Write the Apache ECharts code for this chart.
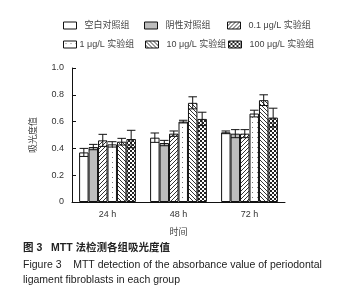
<!DOCTYPE html>
<html>
<head>
<meta charset="utf-8">
<script src="https://cdn.jsdelivr.net/npm/echarts@6/dist/echarts.min.js"></script>
<style>
  html, body { margin: 0; padding: 0; background: #fff; }
  #chart { width: 360px; height: 300px; }
</style>
</head>
<body>
<div id="chart"></div>
<script>
// data
const times = ['24 h', '48 h', '72 h'];
const groups = ['空白对照组', '阴性对照组', '0.1 μg/L 实验组', '1 μg/L 实验组', '10 μg/L 实验组', '100 μg/L 实验组'];
const blankVals = [0.37, 0.48, 0.52];
const negVals = [0.41, 0.44, 0.51];
const d01Vals = [0.46, 0.51, 0.51];
const d1Vals = [0.43, 0.60, 0.66];
const d10Vals = [0.45, 0.74, 0.76];
const d100Vals = [0.47, 0.62, 0.63];
const blankErr = [0.03, 0.035, 0.01];
const negErr = [0.02, 0.02, 0.03];
const d01Err = [0.045, 0.02, 0.03];
const d1Err = [0.02, 0.01, 0.025];
const d10Err = [0.025, 0.045, 0.04];
const d100Err = [0.065, 0.05, 0.07];

const values = [blankVals, negVals, d01Vals, d1Vals, d10Vals, d100Vals];
const errors = [blankErr, negErr, d01Err, d1Err, d10Err, d100Err];

const FONT = '"Liberation Sans", "Noto Sans CJK SC", sans-serif';

// pattern fills
function makePattern(size, draw) {
  const c = document.createElement('canvas');
  c.width = size; c.height = size;
  const ctx = c.getContext('2d');
  ctx.fillStyle = '#fff';
  ctx.fillRect(0, 0, size, size);
  draw(ctx);
  return { image: c, repeat: 'repeat' };
}
const slashPat = makePattern(4, ctx => {
  ctx.fillStyle = '#333';
  for (let i = 0; i < 4; i++) ctx.fillRect(3 - i, i, 1, 1);
});
const backPat = makePattern(4, ctx => {
  ctx.fillStyle = '#333';
  for (let i = 0; i < 4; i++) ctx.fillRect(i, i, 1, 1);
});
const dotPat = makePattern(5, ctx => {
  ctx.fillStyle = '#777';
  ctx.fillRect(2, 2, 1, 1);
});
const checkPat = makePattern(4, ctx => {
  ctx.fillStyle = '#222';
  ctx.fillRect(0, 0, 2, 2);
  ctx.fillRect(2, 2, 2, 2);
});
const fills = ['#ffffff', '#bdbdbd', slashPat, dotPat, backPat, checkPat];

const chart = echarts.init(document.getElementById('chart'));

const barSeries = groups.map((name, i) => ({
  name: name,
  type: 'bar',
  data: values[i],
  barGap: '0%',
  barCategoryGap: '20%',
  itemStyle: { color: fills[i], borderColor: '#111', borderWidth: 1 },
  z: 2
}));

const errData = [];
for (let g = 0; g < groups.length; g++) {
  for (let t = 0; t < times.length; t++) {
    errData.push([t, values[g][t], errors[g][t], g]);
  }
}

const errSeries = {
  type: 'custom',
  data: errData,
  z: 5,
  silent: true,
  renderItem: function (params, api) {
    const t = api.value(0), v = api.value(1), e = api.value(2), g = api.value(3);
    const catW = api.size([1, 0])[0];
    const barW = catW * 0.8 / 6;
    const center = api.coord([t, v])[0];
    const x = center + (g - 2.5) * barW;
    const yHi = api.coord([t, v + e])[1];
    const yLo = api.coord([t, v - e])[1];
    const hw = barW * 0.45;
    const style = { stroke: '#111', lineWidth: 1 };
    return {
      type: 'group',
      children: [
        { type: 'line', shape: { x1: x, y1: yHi, x2: x, y2: yLo }, style: style },
        { type: 'line', shape: { x1: x - hw, y1: yHi, x2: x + hw, y2: yHi }, style: style },
        { type: 'line', shape: { x1: x - hw, y1: yLo, x2: x + hw, y2: yLo }, style: style }
      ]
    };
  }
};

const legendPos = [
  [63, 21], [144, 21], [227, 21],
  [63, 40], [145, 40], [228, 40]
];
const legends = groups.map((name, i) => ({
  data: [{ name: name, icon: 'rect' }],
  left: legendPos[i][0],
  top: legendPos[i][1],
  itemWidth: 13,
  itemHeight: 7,
  itemGap: 0,
  padding: 0,
  selectedMode: false,
  textStyle: { fontSize: 9, color: '#444', fontFamily: FONT, padding: [0, 0, 0, i === 3 ? -2 : 3] },
  itemStyle: { borderColor: '#111', borderWidth: 1 }
}));

chart.setOption({
  animation: false,
  textStyle: { fontFamily: FONT },
  legend: legends,
  grid: { left: 72, right: 75, top: 68, bottom: 98 },
  xAxis: {
    type: 'category',
    data: times,
    axisLine: { lineStyle: { color: '#111', width: 1 } },
    axisTick: { inside: true, length: 4, lineStyle: { color: '#111' } },
    axisLabel: { fontSize: 9, color: '#333', margin: 8 },
    name: '时间',
    nameLocation: 'middle',
    nameGap: 26,
    nameTextStyle: { fontSize: 9, color: '#444' }
  },
  yAxis: {
    type: 'value',
    min: 0,
    max: 1.0,
    interval: 0.2,
    axisLine: { show: true, lineStyle: { color: '#111', width: 1 } },
    axisTick: { show: true, inside: true, length: 4, lineStyle: { color: '#111' } },
    splitLine: { show: false },
    axisLabel: {
      fontSize: 9, color: '#333', margin: 8,
      formatter: v => (v === 0 ? '0' : v.toFixed(1))
    },
    name: '吸光度值',
    nameLocation: 'middle',
    nameRotate: 90,
    nameGap: 34,
    nameTextStyle: { fontSize: 9, color: '#444' }
  },
  series: barSeries.concat([errSeries]),
  graphic: [
    { type: 'text', left: 23, top: 243, style: { text: '图 3   MTT 法检测各组吸光度值', fontSize: 10.5, fontWeight: 'bold', fill: '#222', fontFamily: FONT } },
    { type: 'text', left: 23, top: 260, style: { text: 'Figure 3    MTT detection of the absorbance value of periodontal', fontSize: 10.5, fill: '#222', fontFamily: FONT } },
    { type: 'text', left: 23, top: 275, style: { text: 'ligament fibroblasts in each group', fontSize: 10.5, fill: '#222', fontFamily: FONT } }
  ]
});
</script>
</body>
</html>
